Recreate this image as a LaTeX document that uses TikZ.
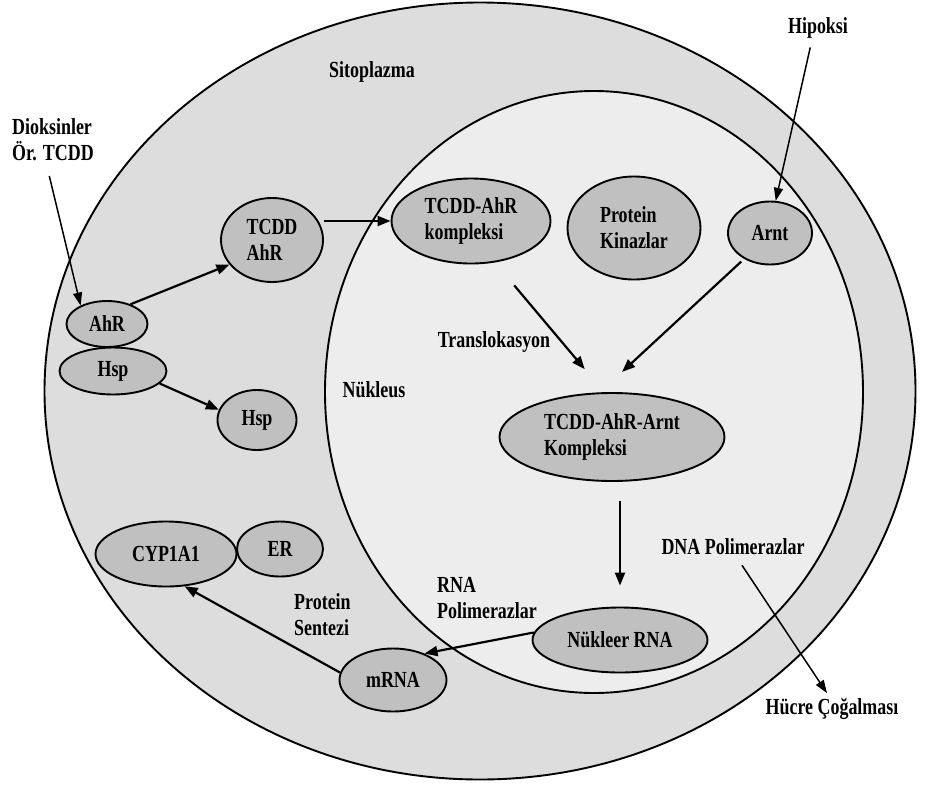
\documentclass[tikz,border=0pt]{standalone}
\usepackage{fontspec}
\setmainfont[FakeStretch=0.78]{Liberation Serif}
\usetikzlibrary{shapes.geometric,arrows.meta}
\definecolor{cytogray}{RGB}{221,221,221}
\definecolor{nucgray}{RGB}{237,237,237}
\definecolor{molgray}{RGB}{192,192,192}
\tikzset{
	mol/.style={ellipse, draw, line width=1.9pt, fill=molgray, inner sep=0pt, align=left, font=\fontsize{23}{26}\selectfont\bfseries},
	lbl/.style={inner sep=1pt, align=left, font=\fontsize{23}{26}\selectfont\bfseries},
	arr/.style={line width=2.2pt, -{Triangle[length=13pt,width=10pt]}},
	thinarr/.style={line width=1.5pt, -{Triangle[length=13pt,width=9pt]}}
}
\begin{document}
\begin{tikzpicture}[x=1pt,y=-1pt]
			\useasboundingbox (0,0) rectangle (926,785);
			\coordinate (cell) at (480,391);
			\coordinate (nuc) at (594,392);
			\draw[line width=1.9pt, fill=cytogray] (cell) ellipse [x radius=435.5, y radius=388.5];
			\draw[line width=1.9pt, fill=nucgray] (nuc) ellipse [x radius=269, y radius=301];
			\node[lbl] (sito) at (372,72) {Sitoplazma};
			\node[lbl] (nukleus) at (374,390) {Nükleus};
			\node[lbl] (hipoksi) at (818,28) {Hipoksi};
			\node[lbl, anchor=west] (dioksin) at (11,140) {Dioksinler\\Ör. TCDD};
			\node[lbl] (transl) at (494,342) {Translokasyon};
			\node[lbl, anchor=west] (rnapol) at (436,598) {RNA\\Polimerazlar};
			\node[lbl] (dnapol) at (733,547) {DNA Polimerazlar};
			\node[lbl] (hucre) at (832,709) {Hücre Çoğalması};
			\node[lbl, anchor=west] (sentez) at (293,615) {Protein\\Sentezi};
			\node[mol, minimum width=81pt, minimum height=46pt] (ahr) at (107,324) {AhR};
			\node[mol, minimum width=107pt, minimum height=47pt] (hsp1) at (113,371) {Hsp};
			\node[mol, minimum width=102pt, minimum height=84pt] (ta) at (272,240) {TCDD\\AhR};
			\node[mol, minimum width=79pt, minimum height=60pt] (hsp2) at (257,420) {Hsp};
			\node[mol, minimum width=159pt, minimum height=85pt] (tak) at (471,221) {TCDD-AhR\\kompleksi};
			\node[mol, minimum width=133pt, minimum height=103pt] (pk) at (634,228) {Protein\\Kinazlar};
			\node[mol, minimum width=84pt, minimum height=63pt] (arnt) at (770,233) {Arnt};
			\node[mol, minimum width=225pt, minimum height=88pt] (taa) at (612,437) {TCDD-AhR-Arnt\\Kompleksi};
			\node[mol, minimum width=175pt, minimum height=65pt] (nrna) at (620,640) {Nükleer RNA};
			\node[mol, minimum width=107pt, minimum height=63pt] (mrna) at (393,680) {mRNA};
			\node[mol, minimum width=141pt, minimum height=65pt] (cyp) at (166,554) {CYP1A1};
			\node[mol, minimum width=86pt, minimum height=55pt] (er) at (280,549) {ER};
			\draw[thinarr, shorten <=14pt] ([xshift=-7pt]dioksin.south) -- (ahr.145);
			\draw[arr] (ahr.40) -- (ta.210);
			\draw[arr] (hsp1.-15) -- (hsp2.165);
			\draw[arr] (ta.east |- tak.west) -- (tak.west);
			\draw[thinarr, shorten <=8pt] ([xshift=-6pt]hipoksi.south) -- (arnt.80);
			\draw[arr, shorten <=30pt, shorten >=30pt] (tak.-60) -- (taa.100);
			\draw[arr, shorten <=4pt, shorten >=30pt] (arnt.-135) -- (taa.105);
			\draw[arr, shorten <=19pt, shorten >=21pt] (taa.south -| nrna.north) -- (nrna.north);
			\draw[arr] (nrna.175) -- (mrna.40);
			\draw[arr] (mrna.172) -- (cyp.-60);
			\draw[thinarr] ([xshift=9pt,yshift=-9pt]dnapol.south) -- ([xshift=-5pt,yshift=4pt]hucre.north);
		\end{tikzpicture}
\end{document}
